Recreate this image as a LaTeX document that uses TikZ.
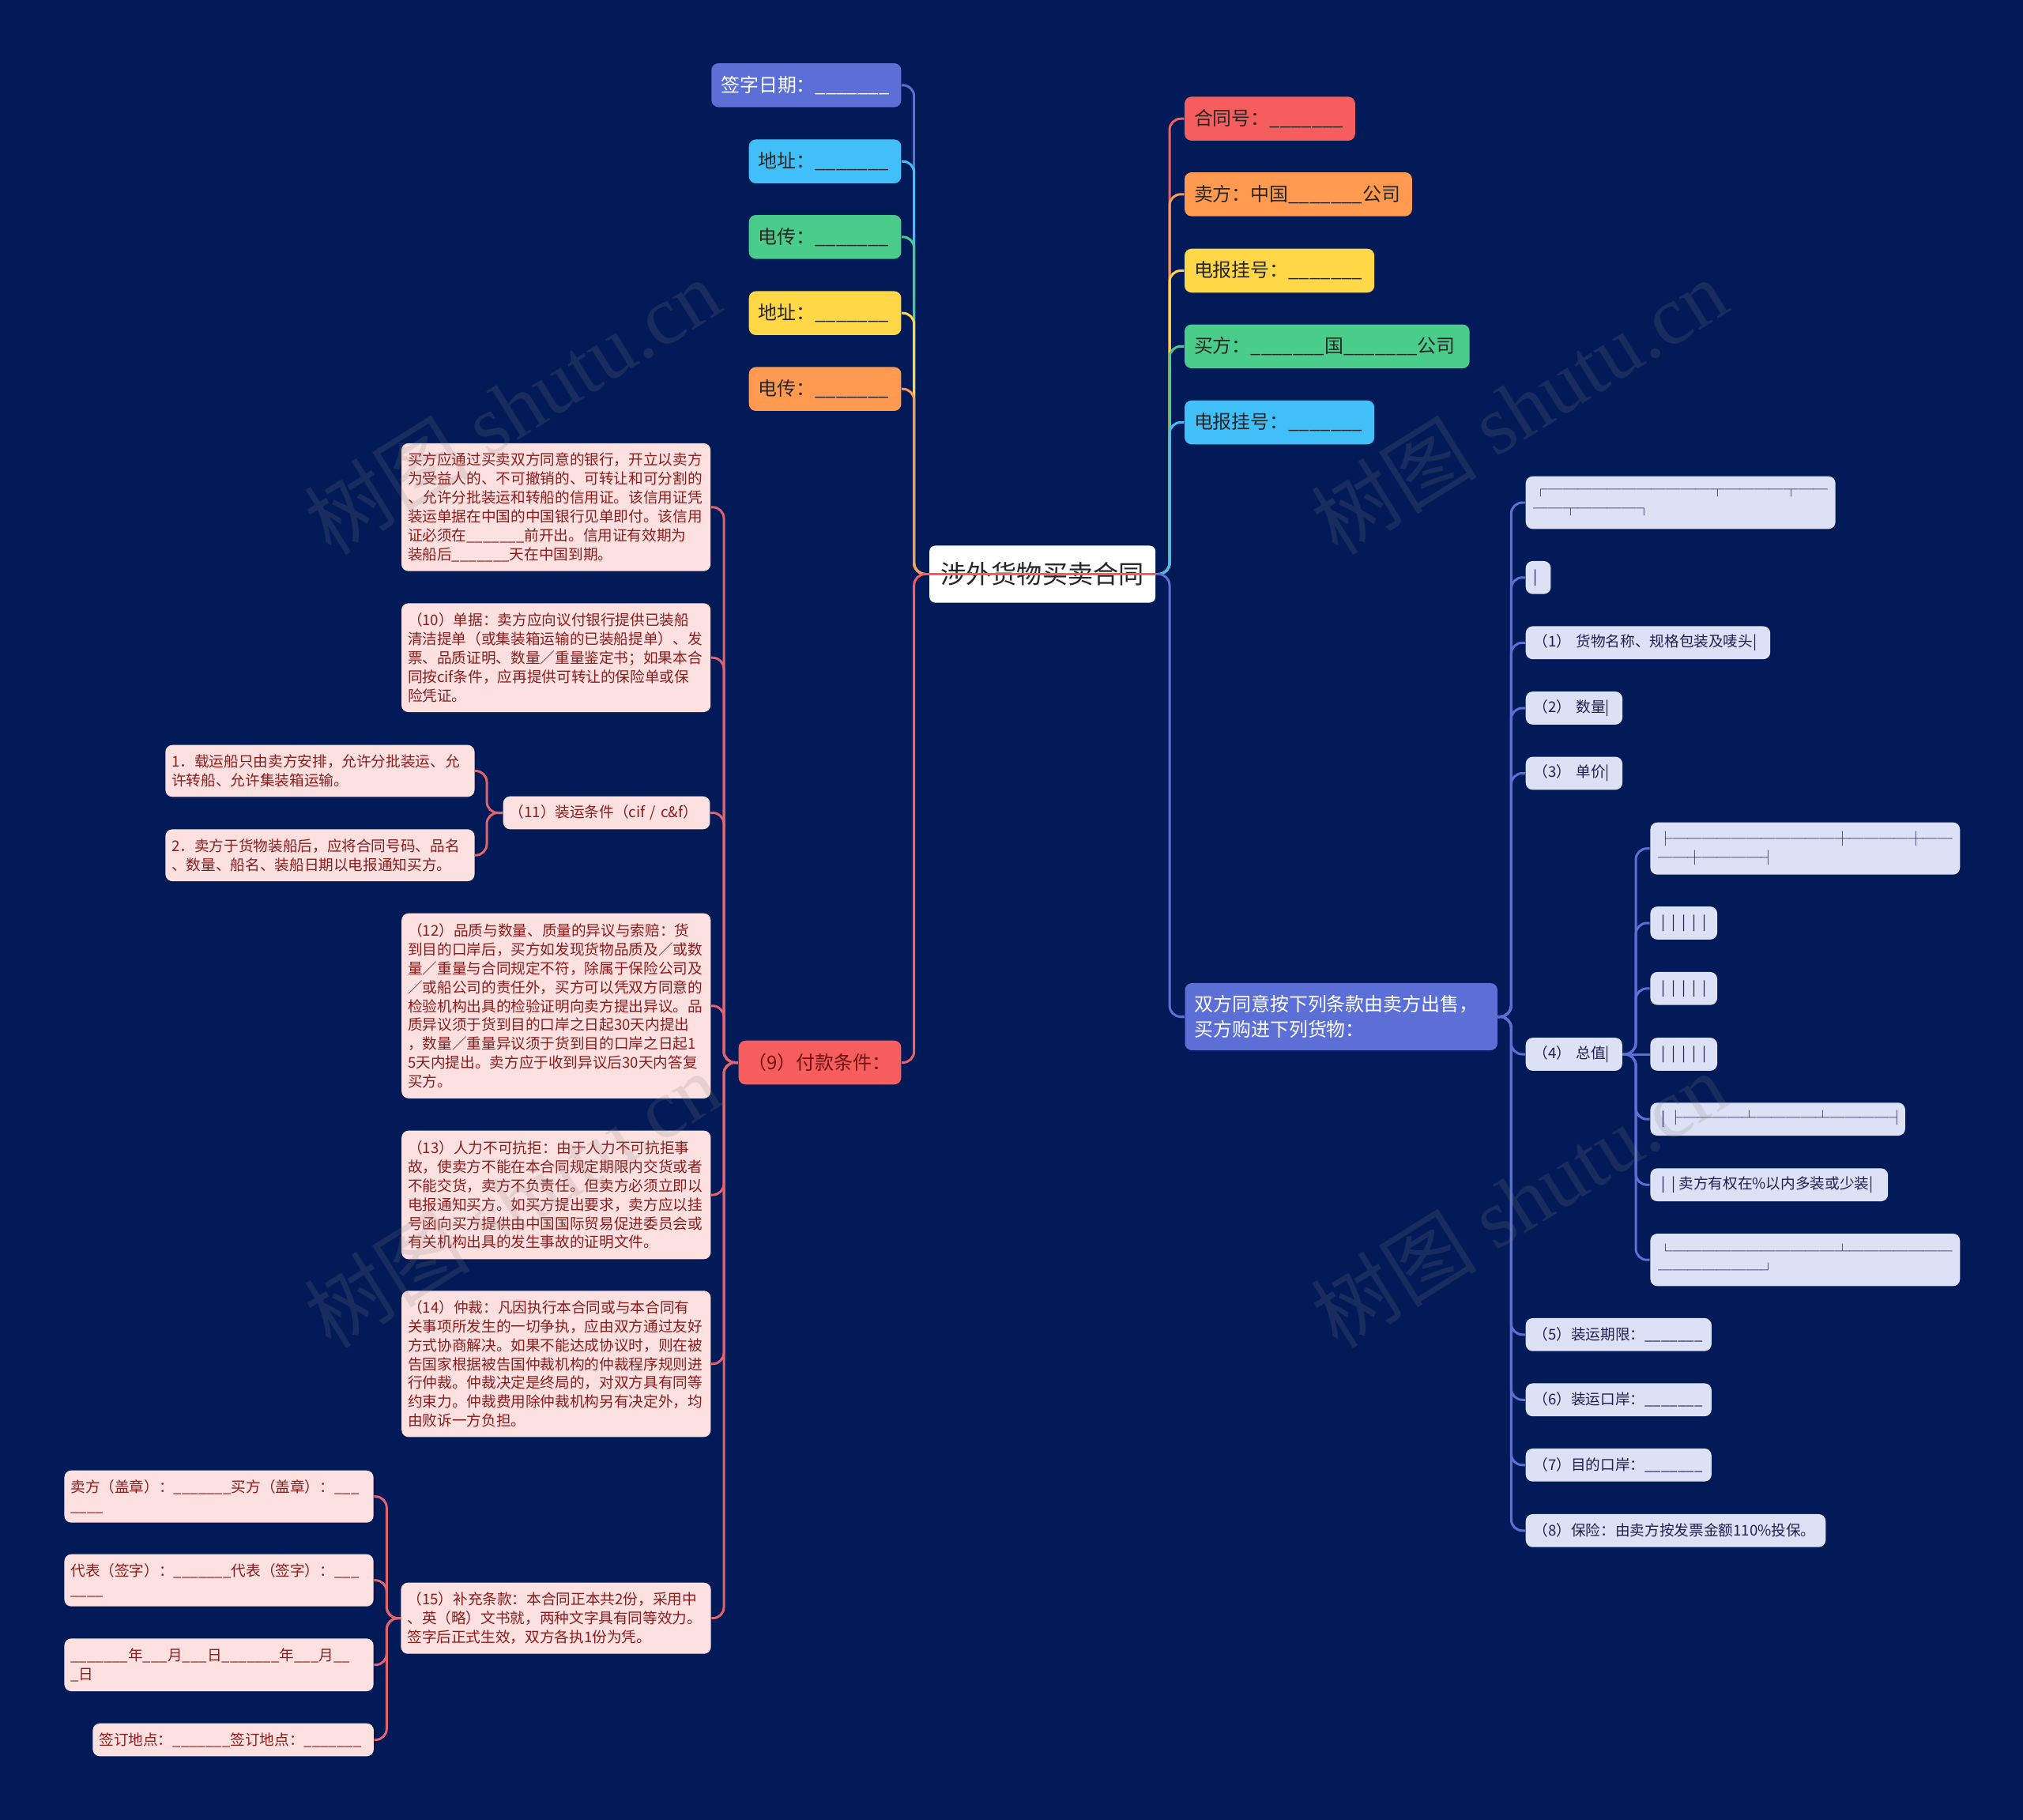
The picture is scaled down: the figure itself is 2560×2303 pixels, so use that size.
\documentclass[tikz,border=0pt]{standalone}
\usepackage{fontspec}
\setmainfont{Noto Sans CJK SC}
\newfontfamily\wmfont{Liberation Serif}
\usetikzlibrary{calc}
\pgfdeclarelayer{bg}
\pgfsetlayers{bg,main}
\definecolor{bgc}{HTML}{021A57}
\definecolor{cindigo}{HTML}{5B6FD7}
\definecolor{ccyan}{HTML}{40BFF8}
\definecolor{cgreen}{HTML}{4ACC8A}
\definecolor{cyellow}{HTML}{FFD747}
\definecolor{corange}{HTML}{FF9A50}
\definecolor{cred}{HTML}{F65E5E}
\definecolor{pinkfill}{HTML}{FDE1E1}
\definecolor{pinktext}{HTML}{8A1C1C}
\definecolor{pinkline}{HTML}{E2636E}
\definecolor{lightfill}{HTML}{DDE1F5}
\definecolor{lighttext}{HTML}{1E2150}
\definecolor{lvtext}{HTML}{262626}
\definecolor{ninetext}{HTML}{6E1111}
\newcommand\uuvii{\_\_\_\_\_\_\_}
\newcommand\uuiii{\_\_\_}
\newcommand\vb{\makebox[0.7em][c]{|}}
\begin{document}
\begin{tikzpicture}[x=0.01cm,y=-0.01cm,
  base/.style={rounded corners=2.5pt, align=left, inner ysep=0pt, anchor=west},
  lvone/.style={base, inner xsep=0.12cm, minimum height=0.555cm, text=lvtext,
    font=\fontsize{6.8}{8.5}\selectfont},
  ctrbox/.style={base, align=center, inner xsep=0.13cm, minimum height=0.72cm,
    fill=white, text=lvtext, rounded corners=2pt, font=\fontsize{9.15}{11}\selectfont},
  pinkbox/.style={base, inner xsep=0.08cm, fill=pinkfill, text=pinktext,
    font=\fontsize{5.3}{6.8}\selectfont},
  lightbox/.style={base, inner xsep=0.1cm, fill=lightfill, text=lighttext,
    minimum height=0.417cm, font=\fontsize{5.3}{6.8}\selectfont},
  conn/.style={line width=0.85pt, rounded corners=4pt},
  wmark/.style={rotate=32, text=gray, opacity=0.18, font=\fontsize{30}{34}\selectfont}
]
\useasboundingbox (0,0) rectangle (2560,2303);

% ---------- centre ----------
\node[ctrbox, text width=2.597cm] (ctr) at (1175.5,726.5) {涉外货物买卖合同};

% ---------- left first level ----------
\node[lvone, fill=cindigo, text=white, text width=2.16cm] (sig) at (899.6,107.8) {签字日期：\uuvii};
\node[lvone, fill=ccyan, text width=1.686cm] (addrA) at (947,204.2) {地址：\uuvii};
\node[lvone, fill=cgreen, text width=1.686cm] (faxA) at (947,299.8) {电传：\uuvii};
\node[lvone, fill=cyellow, text width=1.686cm] (addrB) at (947,396.2) {地址：\uuvii};
\node[lvone, fill=corange, text width=1.686cm] (faxB) at (947,492.2) {电传：\uuvii};
\node[lvone, fill=cred, text=ninetext, text width=1.817cm] (pay) at (933.9,1344.5) {（9）付款条件：};

% ---------- right first level ----------
\node[lvone, fill=cred, text width=1.917cm] (cno) at (1498.3,150.2) {合同号：\uuvii};
\node[lvone, fill=corange, text width=2.637cm] (seller) at (1498.3,245.8) {卖方：中国\uuvii{}公司};
\node[lvone, fill=cyellow, text width=2.16cm] (telA) at (1498.3,342.5) {电报挂号：\uuvii};
\node[lvone, fill=cgreen, text width=3.364cm] (buyer) at (1498.3,438.3) {买方：\uuvii{}国\uuvii{}公司};
\node[lvone, fill=ccyan, text width=2.16cm] (telB) at (1498.3,534.5) {电报挂号：\uuvii};
\node[lvone, fill=cindigo, text=white, text width=3.712cm, minimum height=0.85cm,
  font=\fontsize{6.8}{9.3}\selectfont] (agree) at (1498.8,1286.5)
  {双方同意按下列条款由卖方出售，\\买方购进下列货物：};

% ---------- payment children ----------
\node[pinkbox, text width=3.75cm, minimum height=1.617cm] (p1) at (507.3,641.8)
 {买方应通过买卖双方同意的银行，开立以卖方\\
  为受益人的、不可撤销的、可转让和可分割的\\
  、允许分批装运和转船的信用证。该信用证凭\\
  装运单据在中国的中国银行见单即付。该信用\\
  证必须在\uuvii{}前开出。信用证有效期为\\
  装船后\uuvii{}天在中国到期。};
\node[pinkbox, text width=3.75cm, minimum height=1.377cm] (p2) at (507.3,832.2)
 {（10）单据：卖方应向议付银行提供已装船\\
  清洁提单（或集装箱运输的已装船提单）、发\\
  票、品质证明、数量／重量鉴定书；如果本合\\
  同按cif条件，应再提供可转让的保险单或保\\
  险凭证。};
\node[pinkbox, text width=2.456cm, minimum height=0.416cm] (p3) at (636,1028.5)
 {（11）装运条件（cif / c\&f）};
\node[pinkbox, text width=3.75cm, minimum height=2.34cm] (p4) at (507.5,1272.8)
 {（12）品质与数量、质量的异议与索赔：货\\
  到目的口岸后，买方如发现货物品质及／或数\\
  量／重量与合同规定不符，除属于保险公司及\\
  ／或船公司的责任外，买方可以凭双方同意的\\
  检验机构出具的检验证明向卖方提出异议。品\\
  质异议须于货到目的口岸之日起30天内提出\\
  ，数量／重量异议须于货到目的口岸之日起1\\
  5天内提出。卖方应于收到异议后30天内答复\\
  买方。};
\node[pinkbox, text width=3.75cm, minimum height=1.626cm] (p5) at (507.5,1512)
 {（13）人力不可抗拒：由于人力不可抗拒事\\
  故，使卖方不能在本合同规定期限内交货或者\\
  不能交货，卖方不负责任。但卖方必须立即以\\
  电报通知买方。如买方提出要求，卖方应以挂\\
  号函向买方提供由中国国际贸易促进委员会或\\
  有关机构出具的发生事故的证明文件。};
\node[pinkbox, text width=3.75cm, minimum height=1.85cm] (p6) at (507.5,1725.8)
 {（14）仲裁：凡因执行本合同或与本合同有\\
  关事项所发生的一切争执，应由双方通过友好\\
  方式协商解决。如果不能达成协议时，则在被\\
  告国家根据被告国仲裁机构的仲裁程序规则进\\
  行仲裁。仲裁决定是终局的，对双方具有同等\\
  约束力。仲裁费用除仲裁机构另有决定外，均\\
  由败诉一方负担。};
\node[pinkbox, text width=3.76cm, minimum height=0.90cm] (p7) at (506.7,2047.7)
 {（15）补充条款：本合同正本共2份，采用中\\
  、英（略）文书就，两种文字具有同等效力。\\
  签字后正式生效，双方各执1份为凭。};

% ---------- (11) children ----------
\node[pinkbox, text width=3.75cm, minimum height=0.656cm] (q1) at (208.6,975.5)
 {1．载运船只由卖方安排，允许分批装运、允\\许转船、允许集装箱运输。};
\node[pinkbox, text width=3.75cm, minimum height=0.657cm] (q2) at (208.6,1082.2)
 {2．卖方于货物装船后，应将合同号码、品名\\、数量、船名、装船日期以电报通知买方。};

% ---------- (15) children ----------
\node[pinkbox, text width=3.75cm, minimum height=0.66cm] (r1) at (80.7,1893.7)
 {卖方（盖章）：\uuvii{}买方（盖章）：\uuiii\\\_\_\_\_};
\node[pinkbox, text width=3.75cm, minimum height=0.66cm] (r2) at (80.7,1999.7)
 {代表（签字）：\uuvii{}代表（签字）：\uuiii\\\_\_\_\_};
\node[pinkbox, text width=3.75cm, minimum height=0.667cm] (r3) at (80.7,2106.7)
 {\uuvii{}年\uuiii{}月\uuiii{}日\uuvii{}年\uuiii{}月\_\_\\\_日};
\node[pinkbox, text width=3.393cm, minimum height=0.416cm] (r4) at (116.7,2201.5)
 {签订地点：\uuvii{}签订地点：\uuvii};

% ---------- goods children ----------
\node[lightbox, text width=3.717cm, minimum height=0.666cm] (b1) at (1930,636)
 {┌───────────┬────┬──\\──┬────┐};
\node[lightbox, text width=0.117cm] (b2) at (1930,730.8) {|};
\node[lightbox, text width=2.893cm] (n1) at (1930,813.3) {（1） 货物名称、规格包装及唛头|};
\node[lightbox, text width=1.023cm] (n2) at (1930,896) {（2） 数量|};
\node[lightbox, text width=1.023cm] (n3) at (1930,978.5) {（3） 单价|};
\node[lightbox, text width=1.02cm] (n4) at (1930,1334) {（4） 总值|};
\node[lightbox, text width=2.15cm] (n5) at (1930,1688.8) {（5）装运期限：\uuvii};
\node[lightbox, text width=2.15cm] (n6) at (1930,1771.3) {（6）装运口岸：\uuvii};
\node[lightbox, text width=2.15cm] (n7) at (1930,1853.8) {（7）目的口岸：\uuvii};
\node[lightbox, text width=3.593cm] (n8) at (1930,1936.8) {（8）保险：由卖方按发票金额110\%投保。};

% ---------- (4) children ----------
\node[lightbox, text width=3.716cm, minimum height=0.66cm] (c1) at (2087.7,1073.7)
 {├───────────┼────┼──\\──┼────┤};
\node[lightbox, text width=0.646cm] (c2) at (2087.7,1168) {\vb\vb\vb\vb\vb};
\node[lightbox, text width=0.646cm] (c3) at (2087.7,1250.8) {\vb\vb\vb\vb\vb};
\node[lightbox, text width=0.646cm] (c4) at (2087.7,1334) {\vb\vb\vb\vb\vb};
\node[lightbox, text width=3.023cm] (c5) at (2087.7,1416.2) {\vb├────┴────┴────┤};
\node[lightbox, text width=2.806cm] (c6) at (2087.7,1499.2) {\vb\vb{}卖方有权在\%以内多装或少装|};
\node[lightbox, text width=3.716cm, minimum height=0.663cm] (c7) at (2087.7,1594.2)
 {└───────────┴───────\\───────┘};

% ---------- trunk positions ----------
\coordinate (tL) at (1156.7,0);
\coordinate (tR) at (1480,0);
\coordinate (tP) at (916,0);
\coordinate (tQ) at (616,0);
\coordinate (tS) at (489.3,0);
\coordinate (tA) at (1912.3,0);
\coordinate (tF) at (2070,0);

\begin{pgfonlayer}{bg}
  \fill[bgc] (0,0) rectangle (2560,2303);
  \foreach \n/\c in {sig/cindigo, addrA/ccyan, faxA/cgreen, addrB/cyellow, faxB/corange, pay/cred}
    \draw[conn, draw=\c] (ctr.west) -- (tL |- ctr.west) -- (tL |- \n.east) -- (\n.east);
  \foreach \n/\c in {cno/cred, seller/corange, telA/cyellow, buyer/cgreen, telB/ccyan, agree/cindigo}
    \draw[conn, draw=\c] (ctr.east) -- (tR |- ctr.east) -- (tR |- \n.west) -- (\n.west);
  \foreach \n in {b1,b2,n1,n2,n3,n4,n5,n6,n7,n8}
    \draw[conn, draw=cindigo] (agree.east) -- (tA |- agree.east) -- (tA |- \n.west) -- (\n.west);
  \foreach \n in {c1,c2,c3,c5,c6,c7}
    \draw[conn, draw=cindigo] (n4.east) -- (tF |- n4.east) -- (tF |- \n.west) -- (\n.west);
  \draw[conn, draw=cindigo] (n4.east) -- (c4.west);
  \foreach \n in {p1,p2,p3,p4,p5,p6,p7}
    \draw[conn, draw=pinkline] (pay.west) -- (tP |- pay.west) -- (tP |- \n.east) -- (\n.east);
  \foreach \n in {q1,q2}
    \draw[conn, draw=pinkline] (p3.west) -- (tQ |- p3.west) -- (tQ |- \n.east) -- (\n.east);
  \foreach \n in {r1,r2,r3,r4}
    \draw[conn, draw=pinkline] (p7.west) -- (tS |- p7.west) -- (tS |- \n.east) -- (\n.east);
\end{pgfonlayer}

% line across the centre topic
\draw[line width=0.85pt, draw=cred] (ctr.west) -- (ctr.east);

% ---------- watermarks ----------
\node[wmark] (wm1) at (648,514) {树图 {\wmfont shutu.cn}};
\node[wmark] (wm2) at (1922,514) {树图 {\wmfont shutu.cn}};
\node[wmark] (wm3) at (648,1518) {树图 {\wmfont shutu.cn}};
\node[wmark] (wm4) at (1922,1518) {树图 {\wmfont shutu.cn}};
\end{tikzpicture}
\end{document}
